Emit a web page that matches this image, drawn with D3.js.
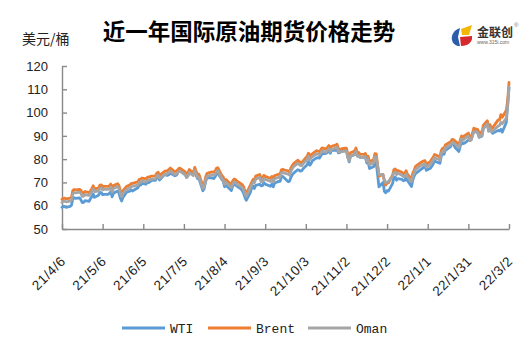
<!DOCTYPE html>
<html>
<head>
<meta charset="utf-8">
<script src="https://cdn.jsdelivr.net/npm/d3@7"></script>
<style>
  html, body { margin: 0; padding: 0; background: #fff; }
  svg { display: block; }
</style>
</head>
<body>
<div id="chart"></div>
<script>
// 近一年国际原油期货价格走势 (美元/桶)
const xTickLabels = ["21/4/6", "21/5/6", "21/6/5", "21/7/5", "21/8/4", "21/9/3",
  "21/10/3", "21/11/2", "21/12/2", "22/1/1", "22/1/31", "22/3/2"];
const yTicks = [50, 60, 70, 80, 90, 100, 110, 120];
const seriesNames = ["WTI", "Brent", "Oman"];

const dates = [
  "21/4/6","21/4/7","21/4/8","21/4/9","21/4/12","21/4/13","21/4/14","21/4/15","21/4/16","21/4/19","21/4/20","21/4/21","21/4/22","21/4/23","21/4/26","21/4/27","21/4/28","21/4/29","21/4/30",
  "21/5/3","21/5/4","21/5/5","21/5/6","21/5/7","21/5/10","21/5/11","21/5/12","21/5/13","21/5/14","21/5/17","21/5/18","21/5/19","21/5/20","21/5/21","21/5/24","21/5/25","21/5/26","21/5/27","21/5/28",
  "21/6/1","21/6/2","21/6/3","21/6/4","21/6/7","21/6/8","21/6/9","21/6/10","21/6/11","21/6/14","21/6/15","21/6/16","21/6/17","21/6/18","21/6/21","21/6/22","21/6/23","21/6/24","21/6/25","21/6/28","21/6/29","21/6/30",
  "21/7/1","21/7/2","21/7/6","21/7/7","21/7/8","21/7/9","21/7/12","21/7/13","21/7/14","21/7/15","21/7/16","21/7/19","21/7/20","21/7/21","21/7/22","21/7/23","21/7/26","21/7/27","21/7/28","21/7/29","21/7/30",
  "21/8/2","21/8/3","21/8/4","21/8/5","21/8/6","21/8/9","21/8/10","21/8/11","21/8/12","21/8/13","21/8/16","21/8/17","21/8/18","21/8/19","21/8/20","21/8/23","21/8/24","21/8/25","21/8/26","21/8/27","21/8/30","21/8/31",
  "21/9/1","21/9/2","21/9/3","21/9/7","21/9/8","21/9/9","21/9/10","21/9/13","21/9/14","21/9/15","21/9/16","21/9/17","21/9/20","21/9/21","21/9/22","21/9/23","21/9/24","21/9/27","21/9/28","21/9/29","21/9/30",
  "21/10/1","21/10/4","21/10/5","21/10/6","21/10/7","21/10/8","21/10/11","21/10/12","21/10/13","21/10/14","21/10/15","21/10/18","21/10/19","21/10/20","21/10/21","21/10/22","21/10/25","21/10/26","21/10/27","21/10/28","21/10/29",
  "21/11/1","21/11/2","21/11/3","21/11/4","21/11/5","21/11/8","21/11/9","21/11/10","21/11/11","21/11/12","21/11/15","21/11/16","21/11/17","21/11/18","21/11/19","21/11/22","21/11/23","21/11/24","21/11/26","21/11/29","21/11/30",
  "21/12/1","21/12/2","21/12/3","21/12/6","21/12/7","21/12/8","21/12/9","21/12/10","21/12/13","21/12/14","21/12/15","21/12/16","21/12/17","21/12/20","21/12/21","21/12/22","21/12/23","21/12/27","21/12/28","21/12/29","21/12/30","21/12/31",
  "22/1/3","22/1/4","22/1/5","22/1/6","22/1/7","22/1/10","22/1/11","22/1/12","22/1/13","22/1/14","22/1/18","22/1/19","22/1/20","22/1/21","22/1/24","22/1/25","22/1/26","22/1/27","22/1/28","22/1/31",
  "22/2/1","22/2/2","22/2/3","22/2/4","22/2/7","22/2/8","22/2/9","22/2/10","22/2/11","22/2/14","22/2/15","22/2/16","22/2/17","22/2/18","22/2/22","22/2/23","22/2/24","22/2/25","22/2/28",
  "22/3/1","22/3/2"
];

const wti = [
  59.33,59.77,59.60,59.32,59.70,60.18,63.15,63.46,63.13,63.38,62.44,61.35,61.43,62.14,61.91,62.94,63.86,65.01,63.58,
  64.49,65.69,65.63,64.71,64.90,64.92,65.28,66.08,63.82,65.37,66.27,65.49,63.36,62.05,63.58,66.05,66.07,66.21,66.85,66.32,
  67.72,68.83,68.81,69.62,69.23,70.05,69.96,70.29,70.91,70.88,72.12,72.15,71.04,71.64,73.66,73.06,73.08,73.30,74.05,72.91,72.98,73.47,
  75.23,75.16,73.37,72.20,72.94,74.56,74.10,75.25,73.13,71.65,71.81,66.42,67.42,70.30,71.91,72.07,71.91,71.65,72.39,73.62,73.95,
  71.26,70.56,68.15,69.09,68.28,66.48,68.29,69.25,69.09,68.44,67.29,66.59,65.46,63.69,62.32,65.64,67.54,68.36,67.42,68.74,69.21,68.50,
  68.59,69.99,69.29,68.35,69.30,68.14,69.72,70.45,70.46,72.61,72.61,71.97,70.29,70.56,72.23,73.30,73.98,75.45,75.29,74.83,75.03,
  75.88,77.62,78.93,77.43,78.30,79.35,80.52,80.64,80.44,81.31,82.28,82.44,82.96,83.87,82.50,83.76,83.76,84.65,82.66,82.81,83.57,
  84.05,83.91,80.86,78.81,81.27,81.93,84.15,81.34,81.59,80.79,80.88,80.76,78.36,79.01,75.94,76.75,78.50,78.39,68.15,69.95,66.18,
  65.57,66.50,66.26,69.49,72.05,72.36,70.94,71.67,71.29,70.73,70.87,72.38,70.86,68.23,71.12,72.76,73.79,75.57,75.98,76.56,76.99,75.21,
  76.08,76.99,77.85,79.46,78.90,78.23,81.22,82.64,82.12,83.82,85.43,86.96,86.90,85.14,83.31,85.60,87.35,86.61,86.82,88.15,
  88.20,88.26,90.27,92.31,91.32,89.36,89.66,89.88,93.10,95.46,92.07,93.66,91.76,91.07,92.35,92.10,92.81,91.59,95.72,
  103.41,110.60
];

const brent = [
  62.74,63.16,63.20,62.95,63.28,63.67,66.58,66.94,66.77,67.05,66.57,65.32,65.40,66.11,65.65,66.42,67.27,68.56,67.25,
  67.56,68.88,68.96,68.09,68.28,68.32,68.55,69.32,67.05,68.71,69.46,68.71,66.66,65.11,66.44,68.46,68.65,68.87,69.46,69.63,
  70.25,71.35,71.31,71.89,71.49,72.22,72.22,72.52,72.69,72.86,73.99,74.39,73.08,73.51,74.90,74.81,75.19,75.56,76.18,74.68,74.76,75.13,
  75.84,76.17,74.53,73.43,74.12,75.55,74.16,76.49,74.76,73.47,73.59,68.62,69.35,72.23,73.79,74.10,74.50,74.48,74.74,76.05,76.33,
  72.89,72.41,70.38,71.29,70.70,69.04,70.63,71.44,71.31,70.59,69.51,69.03,68.23,66.45,65.18,68.75,70.05,71.25,71.07,72.70,73.41,71.63,
  71.59,73.03,72.61,71.69,72.60,71.45,72.92,73.51,73.60,75.46,75.67,75.34,74.92,74.36,76.19,77.25,78.09,79.53,79.09,78.64,78.52,
  79.28,81.26,82.56,81.08,81.95,82.39,83.65,83.42,83.18,84.00,84.86,84.33,85.08,85.82,84.61,85.53,85.99,86.40,84.58,84.32,84.38,
  84.71,84.72,81.99,80.54,82.74,83.43,84.78,82.64,82.87,82.17,82.05,82.43,80.28,81.24,78.89,79.70,82.31,82.25,72.72,73.44,70.57,
  68.87,69.67,69.88,73.08,75.44,75.82,74.42,75.15,74.39,73.70,73.88,75.02,73.52,71.52,73.98,75.29,76.85,78.60,78.94,79.23,79.32,77.78,
  78.98,80.00,80.80,81.99,81.75,80.87,83.72,84.67,84.47,86.06,87.51,88.44,88.38,87.89,86.27,88.20,89.96,89.34,90.03,91.21,
  89.16,89.47,91.11,93.27,92.69,90.78,91.55,91.41,94.44,96.48,93.28,94.81,92.97,93.54,96.84,96.84,99.08,97.93,100.99,
  104.97,112.93
];

const oman = [
  61.4,61.9,61.9,61.7,62.0,62.4,65.2,65.6,65.5,65.8,65.3,64.0,64.1,64.8,64.4,65.1,66.0,67.2,66.0,
  66.3,67.5,67.7,66.8,67.0,67.0,67.3,68.0,65.8,67.4,68.2,67.5,65.4,63.9,65.2,67.2,67.4,67.6,68.2,68.3,
  68.9,70.0,70.0,70.6,70.2,70.9,70.9,71.2,71.4,71.6,72.7,73.1,71.8,72.2,73.6,73.5,73.9,74.3,74.9,73.4,73.5,73.8,
  74.5,74.9,73.3,72.1,72.8,74.2,72.9,75.2,73.5,72.2,72.3,67.4,68.1,70.9,72.5,72.8,73.2,73.2,73.4,74.7,75.0,
  71.6,71.1,69.1,70.0,69.4,67.8,69.3,70.1,70.0,69.3,68.2,67.8,67.0,65.2,64.0,67.5,68.8,70.0,69.8,71.4,72.1,70.3,
  70.3,71.7,71.3,70.4,71.3,70.2,71.6,72.2,72.3,74.1,74.4,74.0,73.6,73.1,74.9,75.9,76.8,78.2,77.8,77.3,77.2,
  78.0,79.9,81.2,79.8,80.6,81.1,82.3,82.1,81.9,82.7,83.5,83.0,83.8,84.5,83.3,84.2,84.7,85.1,83.3,83.0,83.1,
  83.4,83.4,80.7,79.3,81.4,82.1,83.5,81.3,81.6,80.9,80.8,81.1,79.0,79.9,77.6,78.4,81.0,80.9,73.5,73.2,71.0,
  69.8,70.2,70.4,72.6,74.2,74.5,73.4,73.9,73.1,72.5,72.6,73.7,72.3,70.4,72.7,74.0,75.5,77.3,77.6,77.9,78.0,76.5,
  77.7,78.7,79.5,80.7,80.4,79.6,82.4,83.4,83.2,84.8,86.2,87.1,87.1,86.6,85.0,86.9,88.7,88.0,88.7,89.9,
  87.9,88.2,89.8,91.9,91.4,89.5,90.2,90.1,93.1,95.2,92.0,93.5,91.7,92.2,94.2,94.5,95.8,95.2,97.6,
  102.5,111.0
];

const colors = ["#5B9BD5", "#ED7D31", "#A5A5A5"];

const width = 531;
const height = 354;
const parseDate = d3.timeParse("%y/%m/%d");

const svg = d3
  .select("#chart")
  .append("svg")
  .attr("width", width)
  .attr("height", height);

const x = d3
  .scaleTime()
  .domain([parseDate(xTickLabels[0]), parseDate(xTickLabels[xTickLabels.length - 1])])
  .range([62, 509]);

const y = d3.scaleLinear().domain([50, 120]).range([229, 66]);

const axisColor = "#898989";

// y axis, ticks pointing into the plot
const yAxis = svg
  .append("g")
  .attr("transform", "translate(62,0)")
  .call(d3.axisLeft(y).tickValues(yTicks).tickSize(-5).tickSizeOuter(0).tickPadding(14));
yAxis.select(".domain").attr("stroke", axisColor).attr("stroke-width", 1.4);
yAxis.selectAll(".tick line").attr("stroke", axisColor).attr("stroke-width", 1.4);
yAxis
  .selectAll(".tick text")
  .attr("fill", "#222")
  .style("font-family", "'Liberation Sans', Arial, sans-serif")
  .style("font-size", "13px");

// x axis, ticks every 30 days pointing up
const xAxis = svg
  .append("g")
  .attr("transform", "translate(0,229)")
  .call(
    d3.axisBottom(x)
      .tickValues(xTickLabels.map(parseDate))
      .tickSize(-5)
      .tickSizeOuter(0)
      .tickFormat((d, i) => xTickLabels[i])
  );
xAxis.select(".domain").attr("stroke", axisColor).attr("stroke-width", 1.4);
xAxis.selectAll(".tick line").attr("stroke", axisColor).attr("stroke-width", 1.4);
xAxis
  .selectAll(".tick text")
  .attr("fill", "#222")
  .attr("text-anchor", "end")
  .attr("dy", null)
  .attr("y", 0)
  .attr("transform", "translate(4,33) rotate(-45)")
  .style("font-family", "'Liberation Sans', Arial, sans-serif")
  .style("font-size", "13.5px")
  .style("letter-spacing", "0.6px");

// price lines
const seriesData = [wti, brent, oman];
const line = d3
  .line()
  .x((d, i) => x(parseDate(dates[i])))
  .y((d) => y(d));

svg
  .append("g")
  .selectAll("path")
  .data(seriesData)
  .join("path")
  .attr("d", (d) => line(d))
  .attr("fill", "none")
  .attr("stroke", (d, i) => colors[i])
  .attr("stroke-width", 2.8)
  .attr("stroke-linejoin", "round")
  .attr("stroke-linecap", "round");

// title and unit
svg
  .append("text")
  .attr("x", 249)
  .attr("y", 40)
  .attr("text-anchor", "middle")
  .style("font-family", "'Noto Sans CJK SC', sans-serif")
  .style("font-weight", "bold")
  .style("font-size", "22.5px")
  .attr("fill", "#000")
  .text("近一年国际原油期货价格走势");

svg
  .append("text")
  .attr("x", 22)
  .attr("y", 44)
  .style("font-family", "'Noto Sans CJK SC', sans-serif")
  .style("font-size", "14px")
  .attr("fill", "#222")
  .text("美元/桶");

// logo
const logo = svg.append("g").attr("transform", "translate(451,24)");
logo.append("path").attr("d", "M9,4 C3,6 0,11 1,16 C2,20 5,22 9,22 L7,13 Z").attr("fill", "#2B5DAA");
logo.append("path").attr("d", "M10,5 L21,1 L18,11 L11,11 Z").attr("fill", "#F2B705");
logo.append("path").attr("d", "M9,13 L21,12 C22,18 17,22 10,22 Z").attr("fill", "#D7282F");
logo
  .append("text")
  .attr("x", 26)
  .attr("y", 13)
  .style("font-family", "'Noto Sans CJK SC', sans-serif")
  .style("font-weight", "bold")
  .style("font-size", "12px")
  .attr("fill", "#333")
  .text("金联创");
logo
  .append("text")
  .attr("x", 63)
  .attr("y", 3)
  .style("font-family", "'Liberation Sans', sans-serif")
  .style("font-size", "6px")
  .attr("fill", "#777")
  .text("®");
logo
  .append("text")
  .attr("x", 26)
  .attr("y", 20)
  .style("font-family", "'Liberation Sans', sans-serif")
  .style("font-size", "5px")
  .attr("fill", "#666")
  .text("www.315i.com");

// legend
const legend = svg
  .append("g")
  .selectAll("g")
  .data(seriesNames)
  .join("g")
  .attr("transform", (d, i) => `translate(${[122, 208, 308][i]},328)`);
legend
  .append("line")
  .attr("x1", 0)
  .attr("x2", 43)
  .attr("stroke", (d, i) => colors[i])
  .attr("stroke-width", 3);
legend
  .append("text")
  .attr("x", 48)
  .attr("dy", "0.35em")
  .style("font-family", "'Liberation Mono', 'DejaVu Sans Mono', monospace")
  .style("font-size", "13px")
  .attr("fill", "#222")
  .text((d) => d);
</script>
</body>
</html>
